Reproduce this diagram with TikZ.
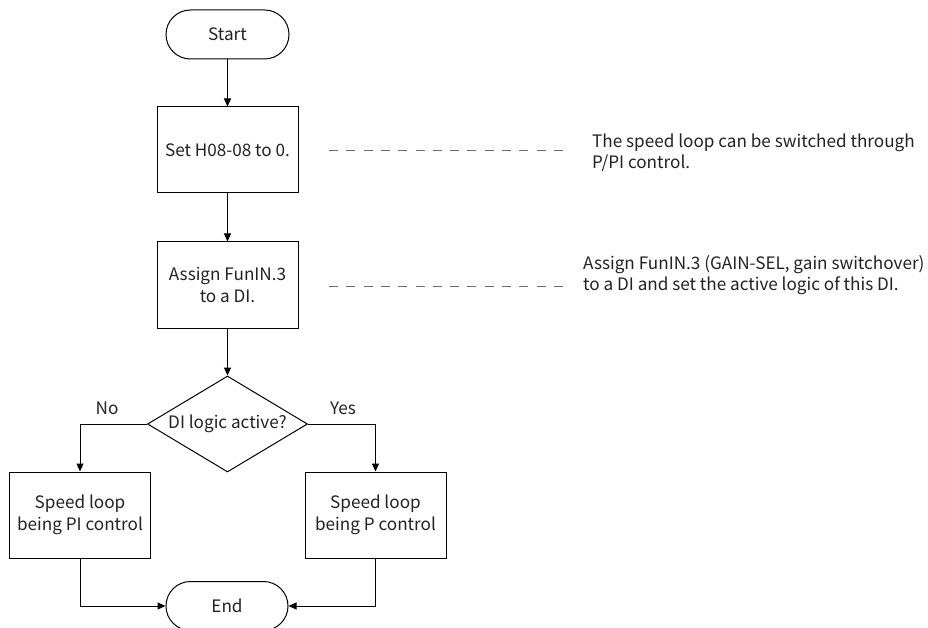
\documentclass[tikz,border=0pt]{standalone}
\usepackage{fontspec}
\setmainfont{Noto Sans CJK SC}
\usetikzlibrary{shapes.geometric,arrows.meta}

\definecolor{ink}{HTML}{222222}
\definecolor{dashgray}{HTML}{6E6E6E}

\tikzset{
  txt/.style={font=\fontsize{17.2}{21.5}\selectfont, text=ink},
  base/.style={txt, draw=black, line width=1bp, inner sep=0pt, align=center},
  term/.style={base, rectangle, rounded corners=24.5bp, minimum width=123bp, minimum height=49bp},
  proc/.style={base, rectangle, minimum width=141bp, minimum height=86bp},
  decide/.style={base, diamond, aspect=1.667, minimum width=160bp, minimum height=96bp},
  flow/.style={draw=black, line width=1bp, -{Triangle[length=8bp,width=7bp]}},
  guide/.style={draw=dashgray, line width=1bp, dash pattern=on 9bp off 8.3bp},
  note/.style={txt, anchor=west, align=left, inner sep=0pt},
}

\begin{document}
\begin{tikzpicture}[x=1bp,y=-1bp]
  \path[use as bounding box, clip] (0,0) rectangle (928,628);

  % main column
  \node[term]   (start) at (227.5,34.5) {Start};
  \node[proc]   (b1)    at (227.5,150)  {Set H08-08 to 0.};
  \node[proc]   (b2)    at (227.5,285)  {Assign FunIN.3\\ to a DI.};
  \node[decide] (dec)   at (227.5,424)  {DI logic active?};
  \node[proc]   (pi)    at (80,515)     {Speed loop\\being PI control};
  \node[proc]   (p)     at (375.5,515)  {Speed loop\\being P control};
  \node[term, minimum width=122bp] (stop) at (227,606) {End};

  % branch labels
  \node[txt] (no)  at (107,408) {No};
  \node[txt] (yes) at (343,408) {Yes};

  % connectors
  \draw[flow] (start) -- (b1);
  \draw[flow] (b1) -- (b2);
  \draw[flow] (b2) -- (dec);
  \draw[flow] (dec.west) -| (pi);
  \draw[flow] (dec.east) -| (p);
  \draw[flow] (pi) |- (stop);
  \draw[flow] (p) |- (stop);

  % explanatory notes with dashed guides
  \coordinate (g1a) at (329,151);
  \coordinate (g1b) at (563,151);
  \coordinate (g2a) at (329,286);
  \coordinate (g2b) at (563,286);
  \draw[guide] (g1a) -- (g1b);
  \draw[guide] (g2a) -- (g2b);

  \node[note] (n1) at (592,153) {The speed loop can be switched through\\P/PI control.};
  \node[note] (n2) at (583,275) {Assign FunIN.3 (GAIN-SEL, gain switchover)\\to a DI and set the active logic of this DI.};
\end{tikzpicture}
\end{document}
